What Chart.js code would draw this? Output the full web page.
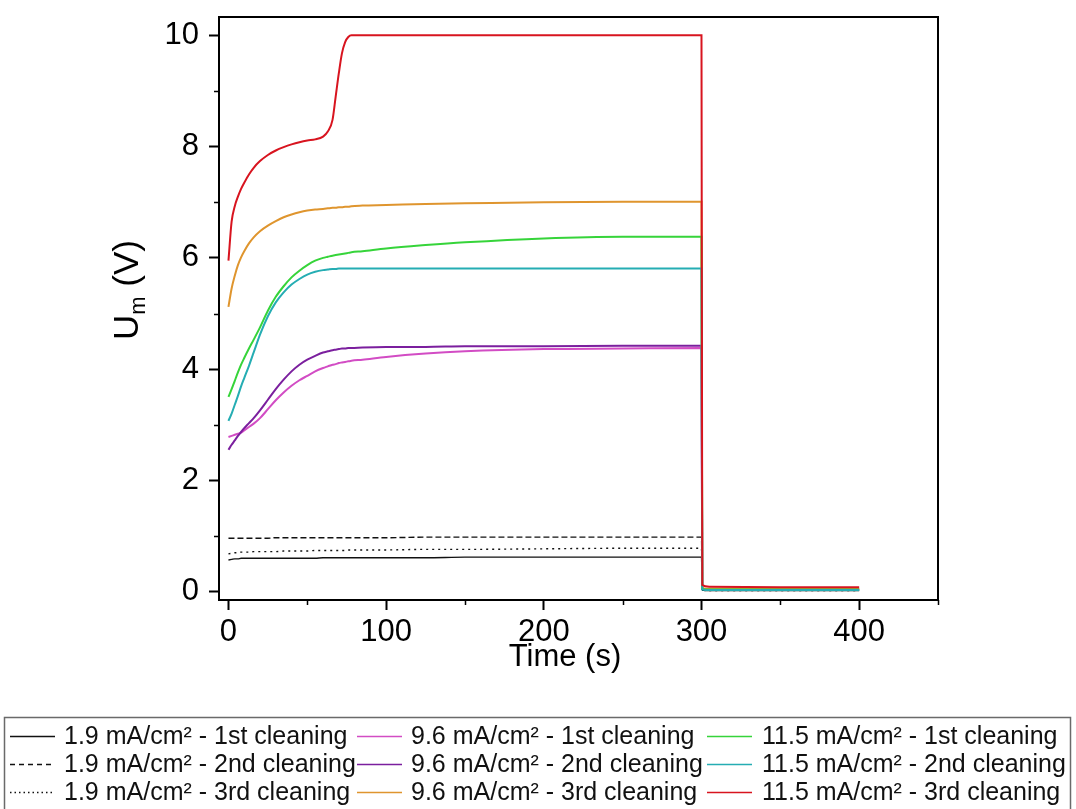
<!DOCTYPE html>
<html>
<head>
<meta charset="utf-8">
<script src="https://cdn.jsdelivr.net/npm/chart.js@4.4.1/dist/chart.umd.min.js"></script>
<style>
  html, body { margin: 0; padding: 0; background: #fff; }
  #wrap { position: relative; width: 1076px; height: 809px; }
  canvas { display: block; }
</style>
</head>
<body>
<div id="wrap"><canvas id="chart" width="1076" height="809"></canvas></div>
<script>
// Measurement time (s); shared by every cleaning run
const timeS = [0, 2, 4, 6, 8, 10, 13, 16, 20, 25, 30, 35, 40, 45, 50, 55, 60, 63, 66, 68, 70, 72, 74, 76, 78, 85, 100, 125, 150, 200, 250, 300, 300.5, 305, 350, 400];

// Membrane voltage U_m (V) for each current density and cleaning run
const u19First  = [0.57, 0.58, 0.59, 0.59, 0.60, 0.60, 0.60, 0.60, 0.60, 0.60, 0.60, 0.60, 0.60, 0.60, 0.60, 0.60, 0.61, 0.61, 0.61, 0.61, 0.61, 0.61, 0.61, 0.61, 0.61, 0.61, 0.61, 0.61, 0.62, 0.62, 0.62, 0.62, 0.03, 0.02, 0.02, 0.02];
const u19Second = [0.96, 0.96, 0.96, 0.96, 0.96, 0.96, 0.96, 0.96, 0.96, 0.96, 0.97, 0.97, 0.97, 0.97, 0.97, 0.97, 0.97, 0.97, 0.97, 0.97, 0.97, 0.97, 0.97, 0.97, 0.97, 0.97, 0.97, 0.98, 0.98, 0.98, 0.98, 0.98, 0.03, 0.03, 0.03, 0.03];
const u19Third  = [0.68, 0.69, 0.70, 0.70, 0.71, 0.71, 0.71, 0.72, 0.72, 0.72, 0.72, 0.73, 0.73, 0.73, 0.73, 0.74, 0.74, 0.74, 0.74, 0.74, 0.74, 0.74, 0.74, 0.75, 0.75, 0.75, 0.75, 0.76, 0.76, 0.77, 0.78, 0.78, 0.03, 0.02, 0.02, 0.02];
const u96First  = [2.78, 2.80, 2.82, 2.84, 2.86, 2.90, 2.96, 3.02, 3.12, 3.28, 3.44, 3.58, 3.70, 3.80, 3.88, 3.96, 4.02, 4.05, 4.08, 4.09, 4.11, 4.12, 4.13, 4.14, 4.15, 4.17, 4.22, 4.28, 4.32, 4.36, 4.37, 4.38, 0.05, 0.04, 0.04, 0.04];
const u96Second = [2.55, 2.64, 2.72, 2.80, 2.87, 2.94, 3.03, 3.12, 3.26, 3.45, 3.64, 3.81, 3.96, 4.08, 4.17, 4.24, 4.30, 4.32, 4.34, 4.35, 4.36, 4.37, 4.37, 4.38, 4.38, 4.39, 4.40, 4.40, 4.41, 4.41, 4.42, 4.42, 0.05, 0.04, 0.04, 0.04];
const u96Third  = [5.12, 5.45, 5.68, 5.87, 6.01, 6.12, 6.26, 6.37, 6.48, 6.58, 6.66, 6.73, 6.78, 6.82, 6.85, 6.87, 6.88, 6.89, 6.90, 6.90, 6.91, 6.91, 6.92, 6.92, 6.93, 6.94, 6.95, 6.97, 6.98, 7.00, 7.01, 7.01, 0.06, 0.05, 0.05, 0.05];
const u115First = [3.50, 3.64, 3.79, 3.94, 4.08, 4.20, 4.37, 4.53, 4.75, 5.05, 5.30, 5.49, 5.65, 5.77, 5.87, 5.95, 6.00, 6.02, 6.04, 6.05, 6.06, 6.07, 6.08, 6.09, 6.10, 6.12, 6.17, 6.23, 6.28, 6.35, 6.38, 6.38, 0.05, 0.04, 0.04, 0.04];
const u115Second = [3.07, 3.20, 3.36, 3.52, 3.69, 3.84, 4.06, 4.30, 4.62, 4.95, 5.20, 5.38, 5.52, 5.62, 5.70, 5.75, 5.78, 5.79, 5.80, 5.80, 5.81, 5.81, 5.81, 5.81, 5.81, 5.81, 5.81, 5.81, 5.81, 5.81, 5.81, 5.81, 0.04, 0.03, 0.03, 0.03];
const u115Third = [5.95, 6.65, 6.93, 7.10, 7.24, 7.35, 7.50, 7.62, 7.74, 7.85, 7.93, 7.99, 8.04, 8.08, 8.11, 8.13, 8.18, 8.27, 8.48, 8.90, 9.32, 9.68, 9.88, 9.97, 10.00, 10.00, 10.00, 10.00, 10.00, 10.00, 10.00, 10.00, 0.12, 0.09, 0.08, 0.08];

// Legend entries, in column order (one column per current density)
const seriesLabels = [
  '1.9 mA/cm² - 1st cleaning', '1.9 mA/cm² - 2nd cleaning', '1.9 mA/cm² - 3rd cleaning',
  '9.6 mA/cm² - 1st cleaning', '9.6 mA/cm² - 2nd cleaning', '9.6 mA/cm² - 3rd cleaning',
  '11.5 mA/cm² - 1st cleaning', '11.5 mA/cm² - 2nd cleaning', '11.5 mA/cm² - 3rd cleaning'
];
const seriesValues = [u19First, u19Second, u19Third, u96First, u96Second, u96Third, u115First, u115Second, u115Third];

// Axis ticks and titles
const timeMajorTicks = [0, 100, 200, 300, 400];
const timeMinorTicks = [50, 150, 250, 350, 450];
const voltMinorTicks = [1, 3, 5, 7, 9];
const timeTitle = 'Time (s)';

const FONT = "'Liberation Sans', Arial, Helvetica, sans-serif";

const styles = [
  { color: '#111111', width: 1.4, dash: [] },
  { color: '#111111', width: 1.4, dash: [6, 3] },
  { color: '#111111', width: 1.4, dash: [2, 4] },
  { color: '#d24cc4', width: 2, dash: [] },
  { color: '#7b1f9e', width: 2, dash: [] },
  { color: '#df952e', width: 2, dash: [] },
  { color: '#36d43a', width: 2, dash: [] },
  { color: '#25adb3', width: 2, dash: [] },
  { color: '#d8141f', width: 2, dash: [] }
];

const datasets = seriesValues.map((vals, i) => ({
  label: seriesLabels[i],
  data: timeS.map((t, k) => ({ x: t, y: vals[k] })),
  borderColor: styles[i].color,
  borderWidth: styles[i].width,
  borderDash: styles[i].dash,
  pointRadius: 0,
  fill: false,
  cubicInterpolationMode: 'monotone',
  order: seriesValues.length - 1 - i
}));

// Frame, minor ticks, axis titles and the boxed three-column legend
const decorations = {
  id: 'decorations',
  afterDraw(chart) {
    const { ctx, chartArea: a, scales: { x, y } } = chart;
    ctx.save();
    ctx.strokeStyle = '#000';
    ctx.lineWidth = 2;
    ctx.beginPath();
    ctx.moveTo(a.left, a.top);
    ctx.lineTo(a.right, a.top);
    ctx.lineTo(a.right, a.bottom);
    ctx.stroke();

    ctx.lineWidth = 1.5;
    ctx.beginPath();
    timeMinorTicks.forEach(v => {
      const px = Math.round(x.getPixelForValue(v)) + 0.5;
      ctx.moveTo(px, a.bottom);
      ctx.lineTo(px, a.bottom + 5);
    });
    voltMinorTicks.forEach(v => {
      const py = Math.round(y.getPixelForValue(v)) + 0.5;
      ctx.moveTo(a.left, py);
      ctx.lineTo(a.left - 5, py);
    });
    ctx.stroke();

    ctx.fillStyle = '#000';

    // x axis title
    ctx.font = '31px ' + FONT;
    ctx.textAlign = 'center';
    ctx.textBaseline = 'middle';
    ctx.fillText(timeTitle, 565, 657);

    // y axis title: U with subscript m
    ctx.translate(138, 290);
    ctx.rotate(-Math.PI / 2);
    ctx.textBaseline = 'alphabetic';
    ctx.textAlign = 'left';
    const big = '35px ' + FONT, small = '22px ' + FONT;
    ctx.font = big; const wU = ctx.measureText('U').width; const wRest = ctx.measureText(' (V)').width;
    ctx.font = small; const wM = ctx.measureText('m').width;
    let cx = -(wU + wM + wRest) / 2;
    ctx.font = big; ctx.fillText('U', cx, 0); cx += wU;
    ctx.font = small; ctx.fillText('m', cx, 7); cx += wM;
    ctx.font = big; ctx.fillText(' (V)', cx, 0);
    ctx.setTransform(1, 0, 0, 1, 0, 0);

    // legend
    ctx.strokeStyle = '#6a6a6a';
    ctx.lineWidth = 1.5;
    ctx.strokeRect(4.5, 717.5, 1066, 100);
    const colSwatch = [10, 357, 707];
    const colText = [64, 411, 762];
    const rowY = [736, 764, 792];
    ctx.font = '25px ' + FONT;
    ctx.textBaseline = 'middle';
    chart.data.datasets.forEach((ds, i) => {
      const col = Math.floor(i / 3), row = i % 3;
      const yy = rowY[row] + 0.5;
      ctx.strokeStyle = ds.borderColor;
      ctx.lineWidth = 1.3;
      ctx.setLineDash(ds.borderDash.length ? (ds.borderDash[0] > 3 ? [5, 4] : [1.5, 3]) : []);
      ctx.beginPath();
      ctx.moveTo(colSwatch[col], yy);
      ctx.lineTo(colSwatch[col] + 45, yy);
      ctx.stroke();
      ctx.setLineDash([]);
      ctx.fillStyle = '#111';
      ctx.fillText(ds.label, colText[col], rowY[row] + 1);
    });
    ctx.restore();
  }
};

const axisFont = { family: FONT, size: 31 };

new Chart(document.getElementById('chart'), {
  type: 'line',
  data: { datasets },
  options: {
    responsive: false,
    animation: false,
    devicePixelRatio: 1,
    layout: { padding: { left: 0, top: 17, right: 138, bottom: 0 } },
    plugins: { legend: { display: false }, tooltip: { enabled: false } },
    scales: {
      x: {
        type: 'linear',
        min: -6,
        max: 450,
        afterFit(scale) { scale.height = 209; scale.paddingLeft = 0; scale.paddingRight = 0; },
        afterBuildTicks(scale) { scale.ticks = timeMajorTicks.map(v => ({ value: v })); },
        ticks: { font: axisFont, color: '#000', padding: 4, maxRotation: 0, autoSkip: false },
        grid: { drawOnChartArea: false, drawTicks: true, tickLength: 10, tickWidth: 2, tickColor: '#000' },
        border: { display: true, color: '#000', width: 2 }
      },
      y: {
        type: 'linear',
        min: -0.15,
        max: 10.33,
        afterFit(scale) { scale.width = 219; scale.paddingTop = 0; scale.paddingBottom = 0; },
        ticks: { stepSize: 2, includeBounds: false, font: axisFont, color: '#000', padding: 10 },
        grid: { drawOnChartArea: false, drawTicks: true, tickLength: 10, tickWidth: 2, tickColor: '#000' },
        border: { display: true, color: '#000', width: 2 }
      }
    }
  },
  plugins: [decorations]
});
</script>
</body>
</html>
